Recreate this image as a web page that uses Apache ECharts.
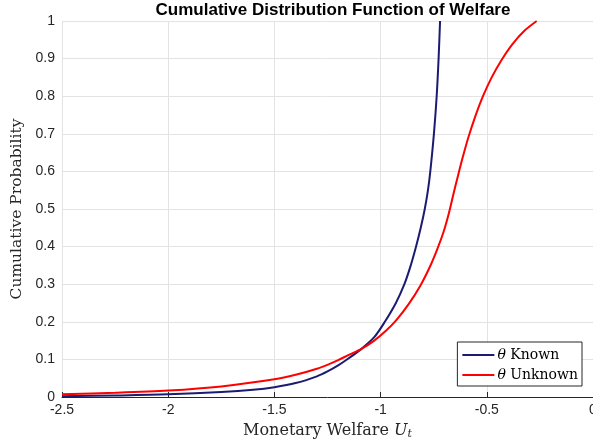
<!DOCTYPE html>
<html>
<head>
<meta charset="utf-8">
<script src="https://cdn.jsdelivr.net/npm/echarts@6/dist/echarts.min.js"></script>
<style>
  html, body { margin: 0; padding: 0; background: #fff; }
  #chart { width: 593px; height: 446px; }
</style>
</head>
<body>
<div id="chart"></div>
<script>
// welfare values (x) and cumulative probability (y)
const knownX = [-2.5, -2.25, -2.0, -1.75, -1.6, -1.5, -1.4, -1.3, -1.25, -1.2, -1.15, -1.09, -1.03, -0.98, -0.928, -0.888, -0.858, -0.833, -0.811, -0.792, -0.777, -0.766, -0.749, -0.736, -0.727, -0.72];
const knownY = [0.002, 0.004, 0.007, 0.013, 0.019, 0.026, 0.037, 0.055, 0.068, 0.084, 0.103, 0.128, 0.159, 0.20, 0.25, 0.30, 0.35, 0.40, 0.45, 0.50, 0.55, 0.60, 0.70, 0.80, 0.90, 1.0];

const unknownX = [-2.5, -2.25, -2.0, -1.75, -1.5, -1.4, -1.3, -1.24, -1.2, -1.15, -1.09, -1.03, -0.975, -0.928, -0.868, -0.813, -0.769, -0.734, -0.703, -0.678, -0.657, -0.635, -0.612, -0.587, -0.555, -0.518, -0.477, -0.432, -0.38, -0.323, -0.265];
const unknownY = [0.007, 0.011, 0.017, 0.028, 0.047, 0.059, 0.075, 0.088, 0.098, 0.112, 0.128, 0.150, 0.176, 0.203, 0.247, 0.296, 0.345, 0.392, 0.44, 0.49, 0.54, 0.59, 0.64, 0.69, 0.745, 0.80, 0.85, 0.895, 0.938, 0.974, 1.0];

const titulo = "Cumulative Distribution Function of Welfare";
const nombres = ["Known", "Unknown"];

const aPares = (xs, ys) => xs.map((x, i) => [x, ys[i]]);

const chart = echarts.init(document.getElementById("chart"));

const ejeColor = "#262626";
const fuenteTicks = "Liberation Sans, Arial, sans-serif";
const fuenteSerif = "DejaVu Serif, Liberation Serif, serif";

const option = {
  animation: false,
  backgroundColor: "#fff",
  title: {
    text: titulo,
    left: 328,
    textAlign: "center",
    top: -3,
    textStyle: { fontFamily: fuenteTicks, fontSize: 17, fontWeight: "bold", color: "#000" },
  },
  grid: { left: 62, right: 0, top: 21, bottom: 49, outerBoundsMode: "none", containLabel: false },
  legend: {
    orient: "vertical",
    right: 11,
    bottom: 60,
    padding: [6, 4, 4, 5],
    itemGap: 6,
    itemWidth: 32,
    itemHeight: 2,
    icon: "rect",
    borderColor: "#262626",
    borderWidth: 1,
    borderRadius: 0,
    backgroundColor: "#fff",
    data: nombres,
    formatter: (n) => "{i|θ} " + n,
    textStyle: {
      fontFamily: fuenteSerif,
      fontSize: 14,
      color: "#000",
      padding: [0, 0, 0, -2],
      rich: { i: { fontFamily: fuenteSerif, fontStyle: "italic", fontSize: 14 } },
    },
  },
  xAxis: {
    type: "value",
    min: -2.5,
    max: 0,
    interval: 0.5,
    name: "{a|Monetary Welfare }{u|U}{t|t}",
    nameLocation: "middle",
    nameGap: 24,
    nameTextStyle: {
      rich: {
        a: { fontFamily: fuenteSerif, fontSize: 16, color: "#262626" },
        u: { fontFamily: fuenteSerif, fontSize: 16, fontStyle: "italic", color: "#262626" },
        t: { fontFamily: fuenteSerif, fontSize: 11, fontStyle: "italic", color: "#262626", padding: [8, 0, 0, 0] },
      },
    },
    axisLine: { show: true, onZero: false, lineStyle: { color: ejeColor, width: 1 } },
    axisTick: { show: true, inside: true, length: 5, lineStyle: { color: ejeColor } },
    axisLabel: { color: ejeColor, fontFamily: fuenteTicks, fontSize: 14, margin: 6 },
    splitLine: { show: true, lineStyle: { color: "#e3e3e3", width: 1 } },
  },
  yAxis: {
    type: "value",
    min: 0,
    max: 1,
    interval: 0.1,
    name: "Cumulative Probability",
    nameLocation: "middle",
    nameGap: 34,
    nameTextStyle: { fontFamily: fuenteSerif, fontSize: 15.5, color: "#262626" },
    axisLine: { show: true, lineStyle: { color: ejeColor, width: 1 } },
    axisTick: { show: true, inside: true, length: 5, lineStyle: { color: ejeColor } },
    axisLabel: {
      color: ejeColor,
      fontFamily: fuenteTicks,
      fontSize: 14,
      margin: 7,
      formatter: (v) => String(+v.toFixed(1)),
    },
    splitLine: { show: true, lineStyle: { color: "#e3e3e3", width: 1 } },
  },
  series: [
    {
      name: nombres[0],
      type: "line",
      data: aPares(knownX, knownY),
      showSymbol: false,
      smooth: 0.3,
      smoothConstraint: false,
      lineStyle: { color: "#1b1b72", width: 2 },
      itemStyle: { color: "#1b1b72" },
      z: 3,
    },
    {
      name: nombres[1],
      type: "line",
      data: aPares(unknownX, unknownY),
      showSymbol: false,
      smooth: 0.3,
      smoothConstraint: false,
      lineStyle: { color: "#ff0000", width: 2 },
      itemStyle: { color: "#ff0000" },
      z: 4,
    },
  ],
};

chart.setOption(option);
</script>
</body>
</html>
